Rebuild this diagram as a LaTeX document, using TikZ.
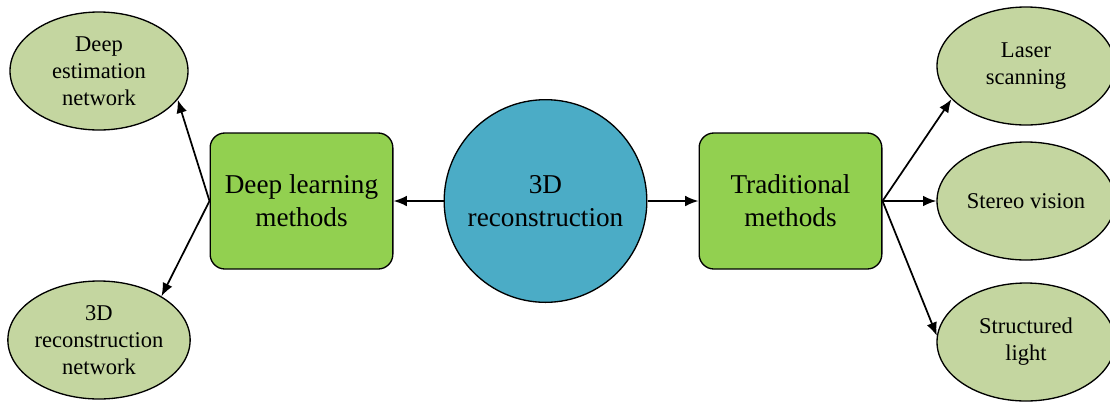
\documentclass[tikz,border=0pt]{standalone}
\usepackage{fontspec}
\setmainfont{Liberation Serif}
\usetikzlibrary{shapes.geometric,arrows.meta}
\definecolor{ellfill}{HTML}{C4D6A0}
\definecolor{boxfill}{HTML}{92D050}
\definecolor{circfill}{HTML}{4BACC6}
\begin{document}
\begin{tikzpicture}[x=0.75pt,y=-0.75pt,
  leaf/.style={ellipse,draw=black,line width=1pt,fill=ellfill,minimum width=133.5pt,minimum height=88.5pt,inner sep=0pt,align=center,font=\fontsize{16.9}{20.25}\selectfont},
  method/.style={rectangle,rounded corners=11pt,draw=black,line width=1pt,fill=boxfill,minimum width=137pt,minimum height=102pt,inner sep=0pt,align=center,font=\fontsize{20.4}{24.75}\selectfont},
  core/.style={circle,draw=black,line width=1pt,fill=circfill,minimum size=152pt,inner sep=0pt,align=center,font=\fontsize{20.4}{24.75}\selectfont},
  conn/.style={-{Latex[length=10pt,width=8pt]},line width=1.3pt}]
\useasboundingbox (0,0) rectangle (1110,401);
\node[core] (c) at (545.5,201) {3D\\reconstruction};
\node[method] (dl) at (301.5,201) {Deep learning\\methods};
\node[method] (tm) at (790.5,201) {Traditional\\methods};
\node[leaf] (den) at (99,71) {Deep\\estimation\\network};
\node[leaf] (rec) at (99,340) {3D\\reconstruction\\network};
\node[leaf] (las) at (1026,66) {Laser\\scanning};
\node[leaf] (ste) at (1026,201) {Stereo vision};
\node[leaf] (str) at (1026,342) {Structured\\light};
\draw[conn] (c.west) -- (dl.east);
\draw[conn] (c.east) -- (tm.west);
\draw[conn] (dl.west) -- (den.-20);
\draw[conn] (dl.west) -- (rec.35);
\draw[conn] (tm.east) -- (las.-156);
\draw[conn] (tm.east) -- (ste.west);
\draw[conn] (tm.east) -- (str.176);
\end{tikzpicture}
\end{document}
